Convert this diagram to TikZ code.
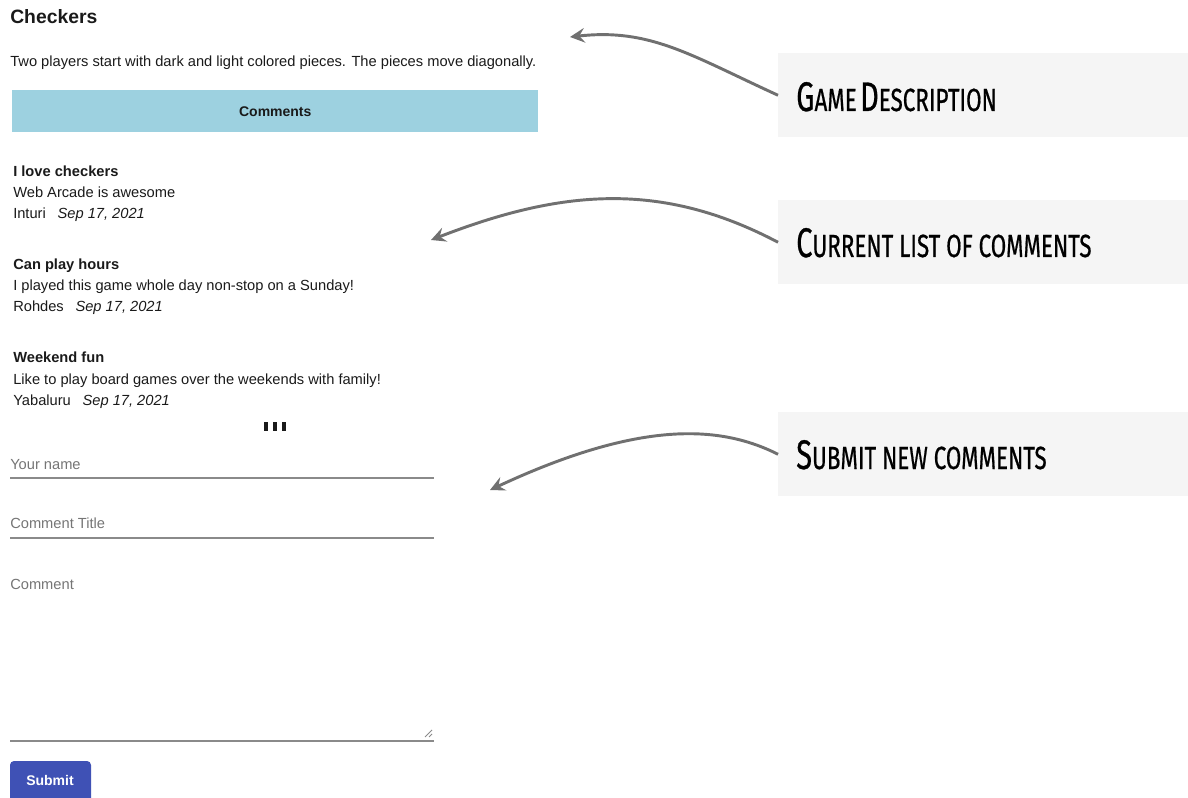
\documentclass[tikz,border=0pt]{standalone}
\usepackage{fontspec}
\setmainfont{Liberation Sans}
\newfontfamily\calloutfont[FakeBold=0.8]{Fira Sans}
\usetikzlibrary{arrows.meta}
\definecolor{barblue}{HTML}{9DD1E0}
\definecolor{calloutbg}{HTML}{F5F5F5}
\definecolor{arrowgray}{HTML}{707070}
\definecolor{fieldgray}{HTML}{8A8A8A}
\definecolor{hintgray}{HTML}{757575}
\definecolor{btnblue}{HTML}{3F51B5}
\definecolor{inktext}{HTML}{1A1A1A}
% big initial followed by small capitals, squeezed horizontally
\newcommand\hcword[2]{{\fontsize{31}{31}\selectfont #1}{\fontsize{24}{24}\selectfont #2}}
\newcommand\hclabel[1]{\scalebox{0.7}[1]{\calloutfont #1}}
\tikzset{
  txt/.style={anchor=base west, inner sep=0pt, text=inktext, font=\fontsize{11}{13}\selectfont},
  ttl/.style={txt, font=\fontsize{11}{13}\selectfont\bfseries},
  hint/.style={txt, text=hintgray},
  field/.style={draw=fieldgray, line width=0.9pt},
  calloutbox/.style={fill=calloutbg, draw=none, anchor=north west, inner sep=0pt,
    minimum width=410*0.75pt, minimum height=84*0.75pt},
  calloutlbl/.style={anchor=base west, inner sep=0pt, text=black},
  pointer/.style={draw=arrowgray, line width=2.2pt,
    -{Stealth[length=11pt,width=11pt,inset=4pt]}},
}
\begin{document}
\begin{tikzpicture}[x=0.75pt,y=-0.75pt]
\useasboundingbox (0,0) rectangle (1188,798);
\clip (0,0) rectangle (1188,798);

% page heading and description
\node[txt, font=\fontsize{14.5}{16}\selectfont\bfseries] (title) at (10,24) {Checkers};
\node[txt] (desc) at (10,67) {Two players start with dark and light colored pieces. The pieces move diagonally.};

% comments bar
\node[fill=barblue, anchor=north west, inner sep=0pt, minimum width=526*0.75pt,
      minimum height=42*0.75pt] (bar) at (12,90) {};
\node[font=\fontsize{10.5}{12}\selectfont\bfseries, text=inktext] at (bar.center) {Comments};

% list of comments
\node[ttl] (c1t) at (13,177) {I love checkers};
\node[txt] (c1b) at (13,198) {Web Arcade is awesome};
\node[txt] (c1a) at (13,219) {Inturi\hspace{0.8em}\textit{Sep 17, 2021}};

\node[ttl] (c2t) at (13,270) {Can play hours};
\node[txt] (c2b) at (13,291) {I played this game whole day non-stop on a Sunday!};
\node[txt] (c2a) at (13,312) {Rohdes\hspace{0.8em}\textit{Sep 17, 2021}};

\node[ttl] (c3t) at (13,363) {Weekend fun};
\node[txt] (c3b) at (13,384) {Like to play board games over the weekends with family!};
\node[txt] (c3a) at (13,405) {Yabaluru\hspace{0.8em}\textit{Sep 17, 2021}};

% ellipsis marks
\fill[inktext] (264,422) rectangle (268,431);
\fill[inktext] (273,422) rectangle (277,431);
\fill[inktext] (282,422) rectangle (286,431);

% form fields
\node[hint] (fname) at (10,469) {Your name};
\draw[field] (10,478) -- (434,478);
\node[hint] (ftitle) at (10,528) {Comment Title};
\draw[field] (10,538) -- (434,538);
\node[hint] (fcomment) at (10,589) {Comment};
\draw[field] (10,741) -- (434,741);
\draw[fieldgray, line width=0.6pt] (425,737) -- (432,730) (429,737) -- (432,734);

% submit button
\fill[btnblue, rounded corners=3pt] (10,761) rectangle (91,810);
\node[font=\fontsize{10.5}{12}\selectfont\bfseries, text=white] (submit) at (50,780) {Submit};

% callouts
\node[calloutbox] (cb1) at (778,53) {};
\node[calloutlbl] (cl1) at (796,111) {\hclabel{\hcword{G}{AME}\hspace{0.1em} \hcword{D}{ESCRIPTION}}};
\node[calloutbox] (cb2) at (778,200) {};
\node[calloutlbl] (cl2) at (796,257) {\hclabel{\hcword{C}{URRENT LIST OF COMMENTS}}};
\node[calloutbox] (cb3) at (778,412) {};
\node[calloutlbl] (cl3) at (796,469) {\hclabel{\hcword{S}{UBMIT NEW COMMENTS}}};

% pointers
\coordinate (p1) at (570,37);
\coordinate (p2) at (431,240);
\coordinate (p3) at (490,490);
\draw[pointer] (cb1.west) .. controls (690,55) and (650,28) .. (p1);
\draw[pointer] (cb2.west) .. controls (660,180) and (560,190) .. (p2);
\draw[pointer] (cb3.west) .. controls (720,425) and (640,420) .. (p3);
\end{tikzpicture}
\end{document}
